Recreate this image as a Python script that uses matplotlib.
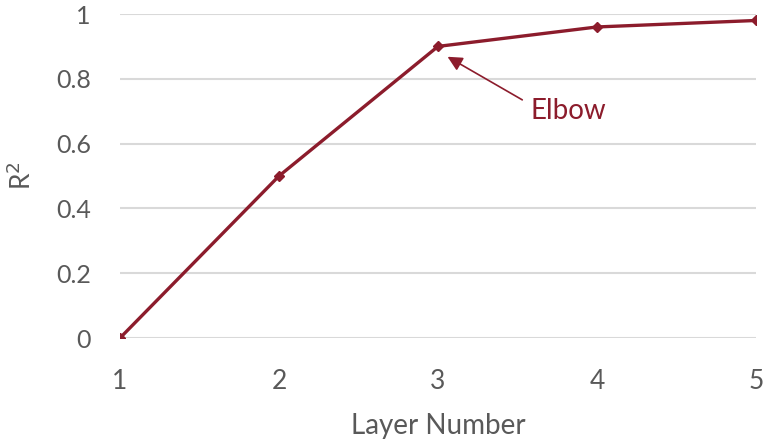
import matplotlib
matplotlib.use('Agg')
import matplotlib.pyplot as plt

# Data
layers = [1, 2, 3, 4, 5]
r2 = [0.0, 0.5, 0.9, 0.96, 0.98]
yticks = [0, 0.2, 0.4, 0.6, 0.8, 1]
ytick_labels = ['0', '0.2', '0.4', '0.6', '0.8', '1']

red = '#8C1C2C'
grey_text = '#595959'

plt.rcParams['font.family'] = ['Lato', 'DejaVu Sans']

fig = plt.figure(figsize=(7.64, 4.42), dpi=100)
ax = fig.add_axes([120 / 764, 1 - 338 / 442, (756 - 120) / 764, (338 - 14) / 442])

ax.plot(layers, r2, color=red, linewidth=2.4, marker='D', markersize=5, zorder=3)

ax.set_xlim(1, 5)
ax.set_ylim(0, 1)
ax.set_xticks(layers)
ax.set_yticks(yticks)
ax.set_yticklabels(ytick_labels)
ax.grid(axis='y', color='#D9D9D9', linewidth=1.5)
ax.set_axisbelow(True)
for s in ax.spines.values():
    s.set_visible(False)
ax.tick_params(length=0, colors=grey_text)
ax.tick_params(axis='x', labelsize=19, pad=22)
ax.tick_params(axis='y', labelsize=18, pad=21)

ax.set_xlabel('Layer Number', fontsize=20, color=grey_text, labelpad=14)
ax.set_ylabel('R$^2$', fontsize=19, color=grey_text, labelpad=14)

# Elbow annotation
ax.annotate('', xy=(3.06, 0.868), xytext=(3.53, 0.735),
            arrowprops=dict(arrowstyle='-|>', color=red, lw=1.2,
                            mutation_scale=22, shrinkA=0, shrinkB=0))
ax.text(3.82, 0.70, 'Elbow', color=red, fontsize=20, ha='center', va='center')

fig.savefig('out.png', dpi=100)
